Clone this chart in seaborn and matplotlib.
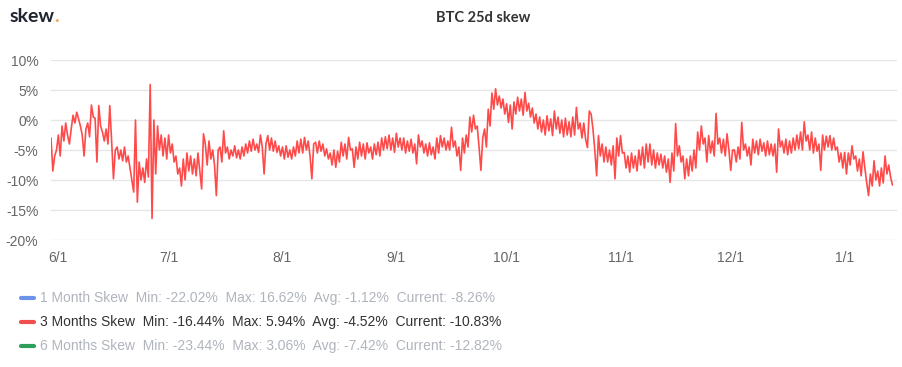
import pandas as pd
import seaborn as sns
import matplotlib
matplotlib.use("Agg")
import matplotlib.pyplot as plt
import matplotlib.dates as mdates
from matplotlib.ticker import FuncFormatter

# nilai skew 3 bulan (%), dua titik per hari (tiap 12 jam)
may = [-3, -8.5, -6, -5]
jun = [-2.5, -6, -1, -3.5, -0.5, -2.5, -4, -1.5, 0.8, -0.5,
       1.3, 0.2, -1, -2.5, -6, -1.5, -0.5, -2.8, 2.5, 0.5,
       0.3, -7, 2.4, -1, -2, -3.5, -1.5, -4, 2.4, -3.5,
       -9.8, -5, -4.5, -6.5, -5, -6.8, -4.5, -7, -6, -8,
       -10, -12, 0, -13.7, -7, -10, -8, -10.4, -6.5, -9.5,
       5.9, -16.4, 0, -9, -1, -5, -2.5, -6, -3, -6.5]
jul = [-2.5, -5.5, -4, -7, -6, -9, -8, -11, -6.5, -10,
       -5.5, -8.5, -6, -9, -6.5, -9.3, -5.5, -8.5, -11.5, -2.3,
       -4, -7.5, -3.5, -6.5, -5, -7.5, -12.6, -5, -4.5, -7,
       -1.8, -5.5, -4.5, -6.5, -5, -6, -4.3, -6.3, -5, -6.5,
       -4.5, -6, -4, -5.5, -3.5, -5.2, -3.2, -5, -4, -5.4,
       -2.5, -4.5, -9, -4, -2.6, -5, -3, -5.2, -3.5, -5.4,
       -4.3, -6]
aug = [-4.5, -6.5, -4.3, -6.2, -5, -6.5, -4.5, -6, -3.5, -5.5,
       -3.2, -5.5, -2.9, -5, -3.5, -6, -9.8, -4, -3.7, -5.5,
       -3.5, -5.2, -4, -6, -4.8, -6.5, -5.5, -7.5, -5, -7.9,
       -5.2, -7, -3.7, -6, -4, -6.5, -2.9, -5, -4.8, -7.9,
       -4.5, -6.5, -3.7, -6, -4, -6.5, -3.8, -5.5, -4.5, -6.5,
       -4, -5.8, -3.7, -6, -3, -5, -2.8, -4.8, -2.5, -5,
       -3, -5.4]
sep = [-2.2, -4.5, -3, -5, -3, -5.5, -3.5, -5.2, -3.2, -5.5,
       -4, -7.3, -2.5, -4.5, -3.5, -5.5, -4, -6, -3.8, -5.8,
       -4.5, -6.5, -3, -5.5, -2.6, -4.5, -3, -5, -3.5, -5,
       -1.2, -4.5, -3.5, -6, -4.5, -8.4, -3, -5.5, -2.5, -4.5,
       0.5, -2, 0.8, -1.5, -1, -4.5, -8.4, -3, -1.5, -4.5,
       1.8, -1, 4.5, 1.8, 5.2, 2.5, 4, 2, 3.5, 1]
okt = [2.7, -0.4, 2.5, -1.5, 3, 1, 3.8, 1.5, 3.5, 0.8,
       4.6, 1.5, 2.8, 0.5, 2, -0.5, 1, -1.5, 0.5, -2,
       0, -2.5, 0.7, -1.8, 0.2, -2.6, 1.5, -1.5, 0.5, -2.2,
       0, -2.8, 0.3, -2.5, -0.3, -2.8, 0.5, -2.5, 2.1, -1.5,
       -0.5, -3, -0.5, -3.2, -4.6, 1.5, 1, -1.5, -5, -9.3,
       -2.6, -6, -4, -7, -4.5, -7, -5, -7.5, -4.3, -9.8,
       -3, -6]
nov = [-2.6, -5.5, -5.4, -8, -6, -8.7, -5.5, -8, -6, -8.5,
       -5, -7.5, -4.5, -8, -4, -7, -4, -7.5, -5, -8,
       -5.5, -7.5, -5.7, -8, -6, -8.7, -6.5, -10.4, -5.5, -8.5,
       -0.6, -6, -4.3, -7, -6, -9.8, -6.5, -9.3, -6, -8.5,
       -5, -8, -2, -5, -1, -4, -3, -7, -2.6, -5.5,
       -3.5, -6, 1.1, -4, -3, -5.5, -3.2, -6, -2.3, -5]
des = [-8.4, -5, -5, -7, -4.5, -6.5, -0.4, -5, -4, -6,
       -4.5, -7.5, -3.2, -5.5, -3.5, -5.8, -3.2, -5.2, -3.8, -6,
       -3.5, -5.8, -4, -6, -4, -8.7, -1.5, -4.5, -3.5, -5.5,
       -3.2, -5.8, -3.5, -5.5, -3, -5, -2.5, -4.8, -2, -5,
       -0.3, -3.5, -2.5, -5, -2, -5.5, -3, -5.2, -4, -8.4,
       -2.5, -5, -2.7, -4.5, -2.6, -5, -3, -5, -4.5, -7,
       -5.5, -8]
jan = [-5.4, -9, -5.5, -7.5, -4.3, -6.5, -6, -8.5, -6.5, -9.3,
       -5.3, -8, -10.4, -12.6, -9, -11, -6.8, -10, -8.5, -11,
       -8, -10.5, -6, -9, -7.5, -9.5, -10.83]

bulan_label = ["6/1", "7/1", "8/1", "9/1", "10/1", "11/1", "12/1", "1/1"]
legend_teks = [
    "1 Month Skew  Min: -22.02%  Max: 16.62%  Avg: -1.12%  Current: -8.26%",
    "3 Months Skew  Min: -16.44%  Max: 5.94%  Avg: -4.52%  Current: -10.83%",
    "6 Months Skew  Min: -23.44%  Max: 3.06%  Avg: -7.42%  Current: -12.82%",
]

nilai = may + jun + jul + aug + sep + okt + nov + des + jan
df = pd.DataFrame({
    "tanggal": pd.date_range("2020-05-30", periods=len(nilai), freq="12h"),
    "skew": nilai,
})

sns.set_style("white")
plt.rcParams["font.family"] = ["Liberation Sans", "DejaVu Sans"]

fig = plt.figure(figsize=(9.03, 3.67), dpi=100)
ax = fig.add_axes([51 / 903, (367 - 240) / 367, 846 / 903, 180 / 367])

sns.lineplot(data=df, x="tanggal", y="skew", color="#ff4a4a", linewidth=1.2, ax=ax)

ax.set_ylim(-20, 10)
ax.set_yticks([-20, -15, -10, -5, 0, 5, 10])
ax.yaxis.set_major_formatter(FuncFormatter(lambda v, p: f"{v:g}%"))
ax.set_xlim(pd.Timestamp("2020-05-30"), pd.Timestamp("2021-01-15 06:00"))
ax.xaxis.set_major_locator(mdates.MonthLocator())
ax.set_xticks(pd.date_range("2020-06-01", periods=len(bulan_label), freq="MS"))
ax.set_xticklabels(bulan_label)

ax.grid(axis="y", color="#e6e6e6", linewidth=1)
ax.grid(axis="x", visible=False)
ax.tick_params(axis="both", length=0, labelsize=10, labelcolor="#666666")
ax.tick_params(axis="y", pad=9)
ax.tick_params(axis="x", pad=8)
for s in ax.spines.values():
    s.set_visible(False)
ax.set_xlabel("")
ax.set_ylabel("")

# logo dan judul
fig.text(10 / 903, 1 - 17 / 367, "skew", fontsize=14, fontweight="bold",
         color="#1f2430", va="center", family="Lato")
fig.text(54.5 / 903, 1 - 17 / 367, ".", fontsize=14, fontweight="bold",
         color="#f0a860", va="center", family="Lato")
fig.text(483 / 903, 1 - 17.5 / 367, "BTC 25d skew", fontsize=10.5, fontweight="bold",
         color="#333333", ha="center", va="center", family="Lato")

# legenda manual di bawah grafik
warna_garis = ["#6d93e8", "#f04d4d", "#2e9e5b"]
warna_teks = ["#b0b5bd", "#333333", "#b0b5bd"]
for i, (t, wg, wt) in enumerate(zip(legend_teks, warna_garis, warna_teks)):
    y = 1 - (298 + i * 24) / 367
    fig.add_artist(plt.Line2D([21.5 / 903, 33.5 / 903], [y, y], color=wg,
                              linewidth=3, solid_capstyle="round"))
    fig.text(40 / 903, y, t, fontsize=10, color=wt, va="center")

plt.savefig("out.png", dpi=100)
